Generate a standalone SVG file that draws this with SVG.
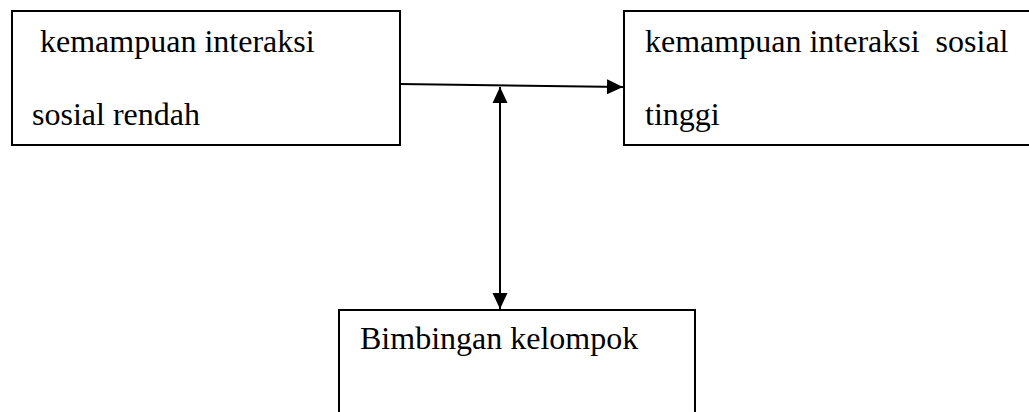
<svg xmlns="http://www.w3.org/2000/svg" width="1029" height="412" viewBox="0 0 1029 412">
<style>
.box{fill:#fff;stroke:#000;stroke-width:2}
.t{font-family:"Liberation Serif","Times New Roman",serif;font-size:32px;fill:#000}
.c{stroke:#000;stroke-width:2;fill:none}
</style>
<defs>
<marker id="ah" markerUnits="userSpaceOnUse" markerWidth="16" markerHeight="16" viewBox="0 0 16 16" refX="16" refY="8" orient="auto-start-reverse">
<path d="M0,0.5 L16,8 L0,15.5 Z" fill="#000"/>
</marker>
</defs>
<rect width="1029" height="412" fill="#fff"/>
<g id="node-rendah">
<rect class="box" x="12" y="11" width="388" height="134"/>
<text class="t" x="40" y="52">kemampuan interaksi</text>
<text class="t" x="32" y="125">sosial rendah</text>
</g>
<g id="node-tinggi">
<rect class="box" x="624" y="11" width="420" height="134"/>
<text class="t" x="645" y="52" xml:space="preserve">kemampuan interaksi  sosial</text>
<text class="t" x="645" y="125">tinggi</text>
</g>
<g id="node-bimbingan">
<rect class="box" x="339" y="310" width="356" height="120"/>
<text class="t" x="360" y="349">Bimbingan kelompok</text>
</g>
<g id="connectors">
<line class="c" x1="400" y1="84" x2="623" y2="87" marker-end="url(#ah)"/>
<line class="c" x1="500" y1="87" x2="500" y2="309" marker-start="url(#ah)" marker-end="url(#ah)"/>
</g>
</svg>
